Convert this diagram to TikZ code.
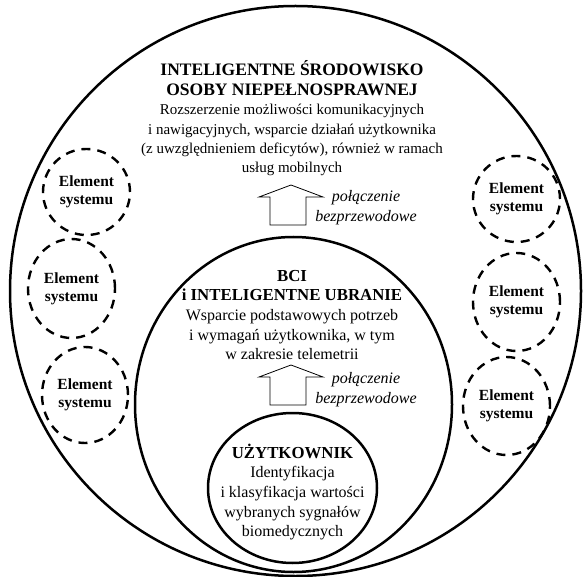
\documentclass[tikz,border=0pt]{standalone}
\usepackage{fontspec}
\setmainfont{Liberation Serif}
\usetikzlibrary{shapes.geometric}
\begin{document}
\begin{tikzpicture}[x=1pt,y=-1pt,
  ring/.style={draw, ellipse, line width=2.5pt, inner sep=0pt},
  elem/.style={draw, ellipse, dash pattern=on 9pt off 7pt, line width=2.4pt, inner sep=0pt,
    font=\fontsize{15.5}{18}\selectfont\bfseries, align=center},
  txt/.style={align=center, font=\fontsize{16}{19.7}\selectfont},
  toptext/.style={align=center, font=\fontsize{15}{19.4}\selectfont},
  head/.style={font=\fontsize{17.5}{19.4}\selectfont\bfseries},
  lbl/.style={align=center, font=\fontsize{16}{20}\selectfont\itshape},
  blockarrow/.style={draw, line width=0.8pt, fill=white, line join=miter}]
\useasboundingbox (0,0) rectangle (583,577);
% rings
\node[ring, minimum width=571pt, minimum height=570pt] (outer) at (295.5,291) {};
\node[ring, minimum width=317pt, minimum height=335pt] (middle) at (293.5,404.5) {};
\node[ring, minimum width=169pt, minimum height=150pt] (inner) at (292.5,488) {};
% texts
\node[toptext] (toptxt) at (292,118.5) {{\fontsize{17.5}{19.4}\selectfont\bfseries INTELIGENTNE ŚRODOWISKO}\\
  {\fontsize{17.5}{19.4}\selectfont\bfseries OSOBY NIEPEŁNOSPRAWNEJ}\\
  Rozszerzenie możliwości komunikacyjnych\\ i nawigacyjnych, wsparcie działań użytkownika\\
  (z uwzględnieniem deficytów), również w ramach\\ usług mobilnych};
\node[txt] (midtxt) at (292,315) {{\fontsize{16.8}{19.7}\selectfont\bfseries BCI}\\
  {\fontsize{16.8}{19.7}\selectfont\bfseries i INTELIGENTNE UBRANIE}\\ Wsparcie podstawowych potrzeb\\
  i wymagań użytkownika, w tym\\ w zakresie telemetrii};
\node[txt] (intxt) at (292.5,492) {{\fontsize{16.8}{19.5}\selectfont\bfseries UŻYTKOWNIK}\\ Identyfikacja\\ i klasyfikacja wartości\\
  wybranych sygnałów\\ biomedycznych};
% system elements
\node[elem, minimum width=87pt, minimum height=86pt] (l1) at (86.5,192) {Element\\ systemu};
\node[elem, minimum width=87pt, minimum height=99pt] (l2) at (71.5,288.5) {Element\\ systemu};
\node[elem, minimum width=86pt, minimum height=96pt] (l3) at (85,395) {Element\\ systemu};
\node[elem, minimum width=87pt, minimum height=86pt] (r1) at (516.5,199) {Element\\ systemu};
\node[elem, minimum width=87pt, minimum height=98pt] (r2) at (516.5,302) {Element\\ systemu};
\node[elem, minimum width=87pt, minimum height=98pt] (r3) at (506.5,406) {Element\\ systemu};
% block arrows
\coordinate (a1) at (291,185);
\coordinate (a2) at (291,365);
\foreach \t in {a1,a2}{
  \draw[blockarrow, shift={(\t)}] (-21,40) -- (-21,12) -- (-32,12) -- (0,0) -- (32,12) -- (15,12) -- (15,40) -- cycle;
}
\node[lbl] (l1lab) at (366,208) {połączenie\\ bezprzewodowe};
\node[lbl] (l2lab) at (366,390) {połączenie\\ bezprzewodowe};
\end{tikzpicture}
\end{document}
